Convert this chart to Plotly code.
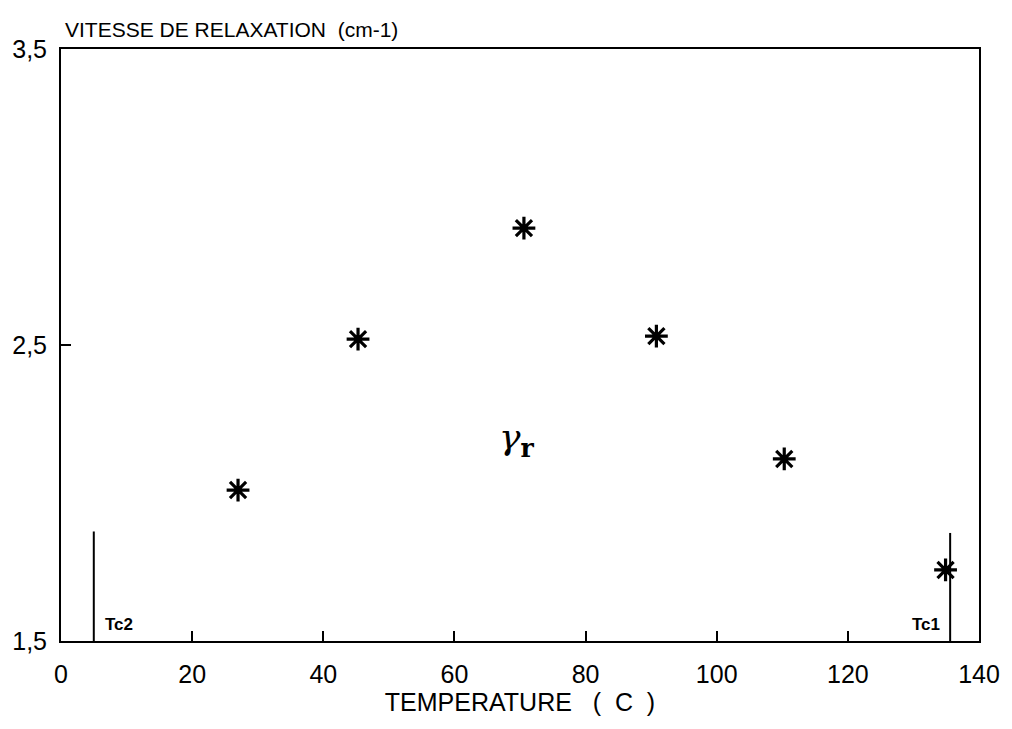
import plotly.graph_objects as go

# Relaxation rate measurements versus temperature
temperature = [27.0, 45.3, 70.6, 90.8, 110.3, 134.9]
relaxation = [2.01, 2.52, 2.895, 2.53, 2.115, 1.74]

# Critical temperatures marked by vertical bars
tc_names = ["Tc2", "Tc1"]
tc_temps = [5.0, 135.6]
tc_tops = [1.87, 1.865]

x_ticks = [0, 20, 40, 60, 80, 100, 120, 140]
y_ticks = [1.5, 2.5, 3.5]
y_labels = ["1,5", "2,5", "3,5"]

FONT = "Liberation Sans, Arial, Helvetica, sans-serif"

fig = go.Figure()

for t, top in zip(tc_temps, tc_tops):
    fig.add_trace(go.Scatter(
        x=[t, t], y=[1.5, top], mode="lines",
        line=dict(color="black", width=2), hoverinfo="skip", showlegend=False,
    ))

fig.add_trace(go.Scatter(
    x=temperature, y=relaxation, mode="markers",
    marker=dict(symbol="asterisk-open", size=19, color="black",
                line=dict(color="black", width=3.2)),
    showlegend=False,
))

# Critical temperature labels, placed beside their bars
tc_label_offset = [1.4, -1.3]
for name, t, dx in zip(tc_names, tc_temps, tc_label_offset):
    fig.add_annotation(
        x=t + dx, y=1.5, xref="x", yref="y", text="<b>" + name + "</b>",
        showarrow=False, yanchor="bottom", xanchor="left" if dx > 0 else "right",
        yshift=5,
        font=dict(family=FONT, size=17, color="black"),
    )

# Curve label
fig.add_annotation(
    x=69.6, y=2.18, xref="x", yref="y",
    text="<i>γ</i><sub><b>r</b></sub>", showarrow=False,
    font=dict(family="DejaVu Serif, serif", size=36, color="black"),
)

# Vertical axis title written above the frame
fig.add_annotation(
    x=0, y=1, xref="paper", yref="paper", xanchor="left", yanchor="bottom",
    xshift=2, yshift=6,
    text="VITESSE DE RELAXATION  (cm-1)", showarrow=False,
    font=dict(family=FONT, size=21, color="black"),
)

axis_common = dict(
    showline=True, linecolor="black", linewidth=2, mirror=True,
    showgrid=False, zeroline=False, ticks="inside", ticklen=10,
    tickwidth=1.5, tickcolor="black",
    tickfont=dict(family=FONT, size=25, color="black"),
)

fig.update_xaxes(
    range=[0, 140], tickvals=x_ticks, ticklabelstandoff=10,
    title=dict(text="TEMPERATURE   (  C  )", standoff=0,
               font=dict(family=FONT, size=25, color="black")),
    **axis_common,
)
fig.update_yaxes(
    range=[1.5, 3.5], tickvals=y_ticks, ticktext=y_labels,
    ticklabelstandoff=7, **axis_common,
)

fig.update_layout(
    width=1012, height=729,
    margin=dict(l=59, r=28, t=49, b=88),
    paper_bgcolor="white", plot_bgcolor="white",
    font=dict(family=FONT, color="black"),
)

fig.write_html("out.html")
